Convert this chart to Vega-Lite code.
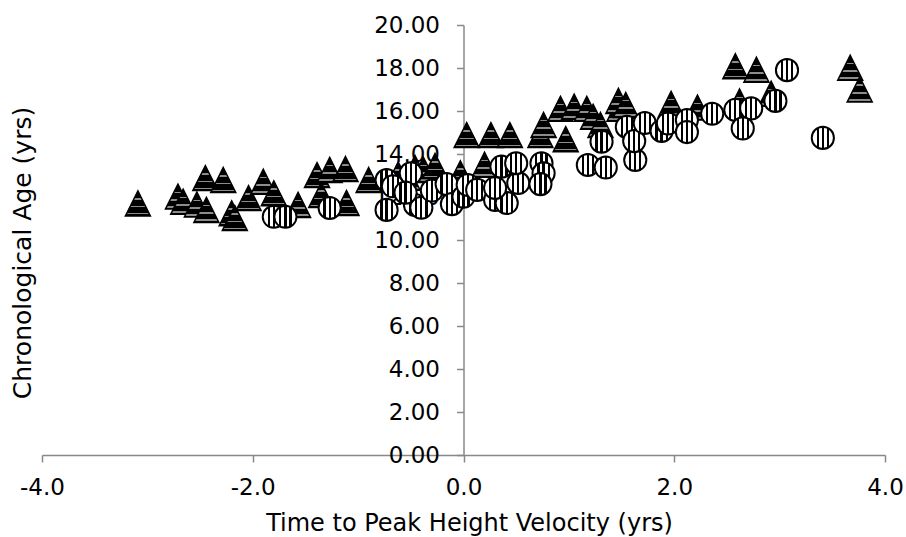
{
  "$schema": "https://vega.github.io/schema/vega-lite/v6.json",
  "autosize": {"type": "none"},
  "width": 843,
  "height": 430,
  "padding": {"left": 42, "top": 25, "right": 21, "bottom": 82},
  "background": "white",
  "config": {"view": {"stroke": null}},
  "datasets": {
    "triangles": [
      {"t": -3.09, "age": 11.70}, {"t": -2.71, "age": 12.02}, {"t": -2.66, "age": 11.78}, {"t": -2.53, "age": 11.65},
      {"t": -2.44, "age": 11.40}, {"t": -2.45, "age": 12.88}, {"t": -2.28, "age": 12.79}, {"t": -2.20, "age": 11.24},
      {"t": -2.17, "age": 11.02}, {"t": -2.04, "age": 11.95}, {"t": -1.90, "age": 12.71}, {"t": -1.80, "age": 12.17},
      {"t": -1.57, "age": 11.63}, {"t": -1.39, "age": 13.02}, {"t": -1.27, "age": 13.26}, {"t": -1.12, "age": 13.30},
      {"t": -1.35, "age": 12.09}, {"t": -1.11, "age": 11.72}, {"t": -0.90, "age": 12.79}, {"t": -0.62, "age": 13.05},
      {"t": -0.53, "age": 12.90}, {"t": -0.46, "age": 13.35}, {"t": -0.38, "age": 13.26}, {"t": -0.27, "age": 13.44},
      {"t": -0.03, "age": 13.10}, {"t": 0.20, "age": 13.50}, {"t": 0.03, "age": 14.88}, {"t": 0.26, "age": 14.88},
      {"t": 0.44, "age": 14.88}, {"t": 0.73, "age": 14.88}, {"t": 0.97, "age": 14.69}, {"t": 0.76, "age": 15.35},
      {"t": 0.92, "age": 16.10}, {"t": 1.05, "age": 16.20}, {"t": 1.17, "age": 16.10}, {"t": 1.48, "age": 16.10},
      {"t": 1.23, "age": 15.73}, {"t": 1.30, "age": 15.35}, {"t": 1.47, "age": 16.47}, {"t": 1.54, "age": 16.28},
      {"t": 1.97, "age": 16.33}, {"t": 2.22, "age": 16.16}, {"t": 2.62, "age": 16.44}, {"t": 2.92, "age": 16.80},
      {"t": 2.58, "age": 18.08}, {"t": 2.78, "age": 17.92}, {"t": 3.67, "age": 18.01}, {"t": 3.76, "age": 17.00}
    ],
    "circles": [
      {"t": -1.80, "age": 11.08}, {"t": -1.69, "age": 11.08}, {"t": -1.27, "age": 11.49}, {"t": -0.73, "age": 12.79},
      {"t": -0.73, "age": 11.40}, {"t": -0.67, "age": 12.50}, {"t": -0.46, "age": 11.63}, {"t": -0.40, "age": 11.50},
      {"t": -0.50, "age": 13.10}, {"t": -0.55, "age": 12.20}, {"t": -0.30, "age": 12.30}, {"t": -0.16, "age": 12.60},
      {"t": -0.11, "age": 11.67}, {"t": 0.00, "age": 12.01}, {"t": 0.04, "age": 12.56}, {"t": 0.13, "age": 12.33},
      {"t": 0.30, "age": 11.86}, {"t": 0.41, "age": 11.72}, {"t": 0.30, "age": 12.42}, {"t": 0.52, "age": 12.65},
      {"t": 0.36, "age": 13.41}, {"t": 0.50, "age": 13.57}, {"t": 0.74, "age": 13.57}, {"t": 0.76, "age": 13.10},
      {"t": 0.73, "age": 12.60}, {"t": 1.18, "age": 13.49}, {"t": 1.35, "age": 13.37}, {"t": 1.31, "age": 14.57},
      {"t": 1.55, "age": 15.26}, {"t": 1.63, "age": 13.72}, {"t": 1.62, "age": 14.60}, {"t": 1.72, "age": 15.44},
      {"t": 1.88, "age": 15.07}, {"t": 1.94, "age": 15.42}, {"t": 2.12, "age": 15.58}, {"t": 2.12, "age": 15.02},
      {"t": 2.36, "age": 15.87}, {"t": 2.58, "age": 16.05}, {"t": 2.73, "age": 16.12}, {"t": 2.65, "age": 15.19},
      {"t": 2.96, "age": 16.47}, {"t": 3.07, "age": 17.90}, {"t": 3.41, "age": 14.75}
    ]
  },
  "encoding": {
    "x": {
      "field": "t", "type": "quantitative",
      "scale": {"domain": [-4, 4], "nice": false, "zero": false},
      "axis": {
        "title": "Time to Peak Height Velocity (yrs)",
        "values": [-4, -2, 0, 2, 4], "grid": false,
        "labelExpr": "replace(format(datum.value, '.1f'), '−', '-')",
        "domainColor": "#888888", "domainWidth": 1.5, "tickColor": "#888888", "tickWidth": 1.5, "tickSize": 7,
        "labelFont": "DejaVu Sans", "labelFontSize": 23, "labelColor": "#000000", "labelPadding": 14,
        "labelFlush": false, "labelOverlap": false,
        "titleFont": "DejaVu Sans", "titleFontSize": 24, "titleFontWeight": "normal", "titleColor": "#000000",
        "titleX": 427, "titleY": 75, "titleBaseline": "alphabetic", "titleAlign": "center"
      }
    },
    "y": {
      "field": "age", "type": "quantitative",
      "scale": {"domain": [0, 20], "nice": false, "zero": false},
      "axis": {
        "title": "Chronological Age (yrs)",
        "values": [0, 2, 4, 6, 8, 10, 12, 14, 16, 18, 20], "format": ".2f", "grid": false,
        "offset": -421.5,
        "domainColor": "#888888", "domainWidth": 1.5, "tickColor": "#888888", "tickWidth": 1.5, "tickSize": 7,
        "labelFont": "DejaVu Sans", "labelFontSize": 23, "labelColor": "#000000", "labelPadding": 17,
        "labelFlush": false, "labelOverlap": false,
        "titleFont": "DejaVu Sans", "titleFontSize": 25, "titleFontWeight": "normal", "titleColor": "#000000",
        "titleX": -433.5, "titleY": 227.5, "titleAngle": -90, "titleBaseline": "alphabetic", "titleAlign": "center"
      }
    }
  },
  "layer": [
    {
      "data": {"name": "triangles"},
      "mark": {
        "type": "point", "shape": "M0,-1L1,1L-1,1Z", "size": 625, "filled": true, "opacity": 1,
        "stroke": "#000000", "strokeWidth": 1.5,
        "fill": {
          "gradient": "linear", "x1": 0, "y1": 0, "x2": 0, "y2": 1,
          "stops": [
            {"offset": 0, "color": "#000000"}, {"offset": 0.30, "color": "#000000"},
            {"offset": 0.30, "color": "#8c8c8c"}, {"offset": 0.36, "color": "#8c8c8c"},
            {"offset": 0.36, "color": "#000000"}, {"offset": 0.60, "color": "#000000"},
            {"offset": 0.60, "color": "#8c8c8c"}, {"offset": 0.66, "color": "#8c8c8c"},
            {"offset": 0.66, "color": "#000000"}, {"offset": 0.88, "color": "#000000"},
            {"offset": 0.88, "color": "#8c8c8c"}, {"offset": 0.94, "color": "#8c8c8c"},
            {"offset": 0.94, "color": "#000000"}, {"offset": 1, "color": "#000000"}
          ]
        }
      }
    },
    {
      "data": {"name": "circles"},
      "mark": {
        "type": "point", "shape": "circle", "size": 491, "filled": true, "opacity": 1,
        "stroke": "#000000", "strokeWidth": 2,
        "fill": {
          "gradient": "linear", "x1": 0, "y1": 0, "x2": 1, "y2": 0,
          "stops": [
            {"offset": 0, "color": "#ffffff"}, {"offset": 0.22, "color": "#ffffff"},
            {"offset": 0.22, "color": "#000000"}, {"offset": 0.32, "color": "#000000"},
            {"offset": 0.32, "color": "#ffffff"}, {"offset": 0.45, "color": "#ffffff"},
            {"offset": 0.45, "color": "#000000"}, {"offset": 0.55, "color": "#000000"},
            {"offset": 0.55, "color": "#ffffff"}, {"offset": 0.68, "color": "#ffffff"},
            {"offset": 0.68, "color": "#000000"}, {"offset": 0.78, "color": "#000000"},
            {"offset": 0.78, "color": "#ffffff"}, {"offset": 1, "color": "#ffffff"}
          ]
        }
      }
    }
  ]
}
